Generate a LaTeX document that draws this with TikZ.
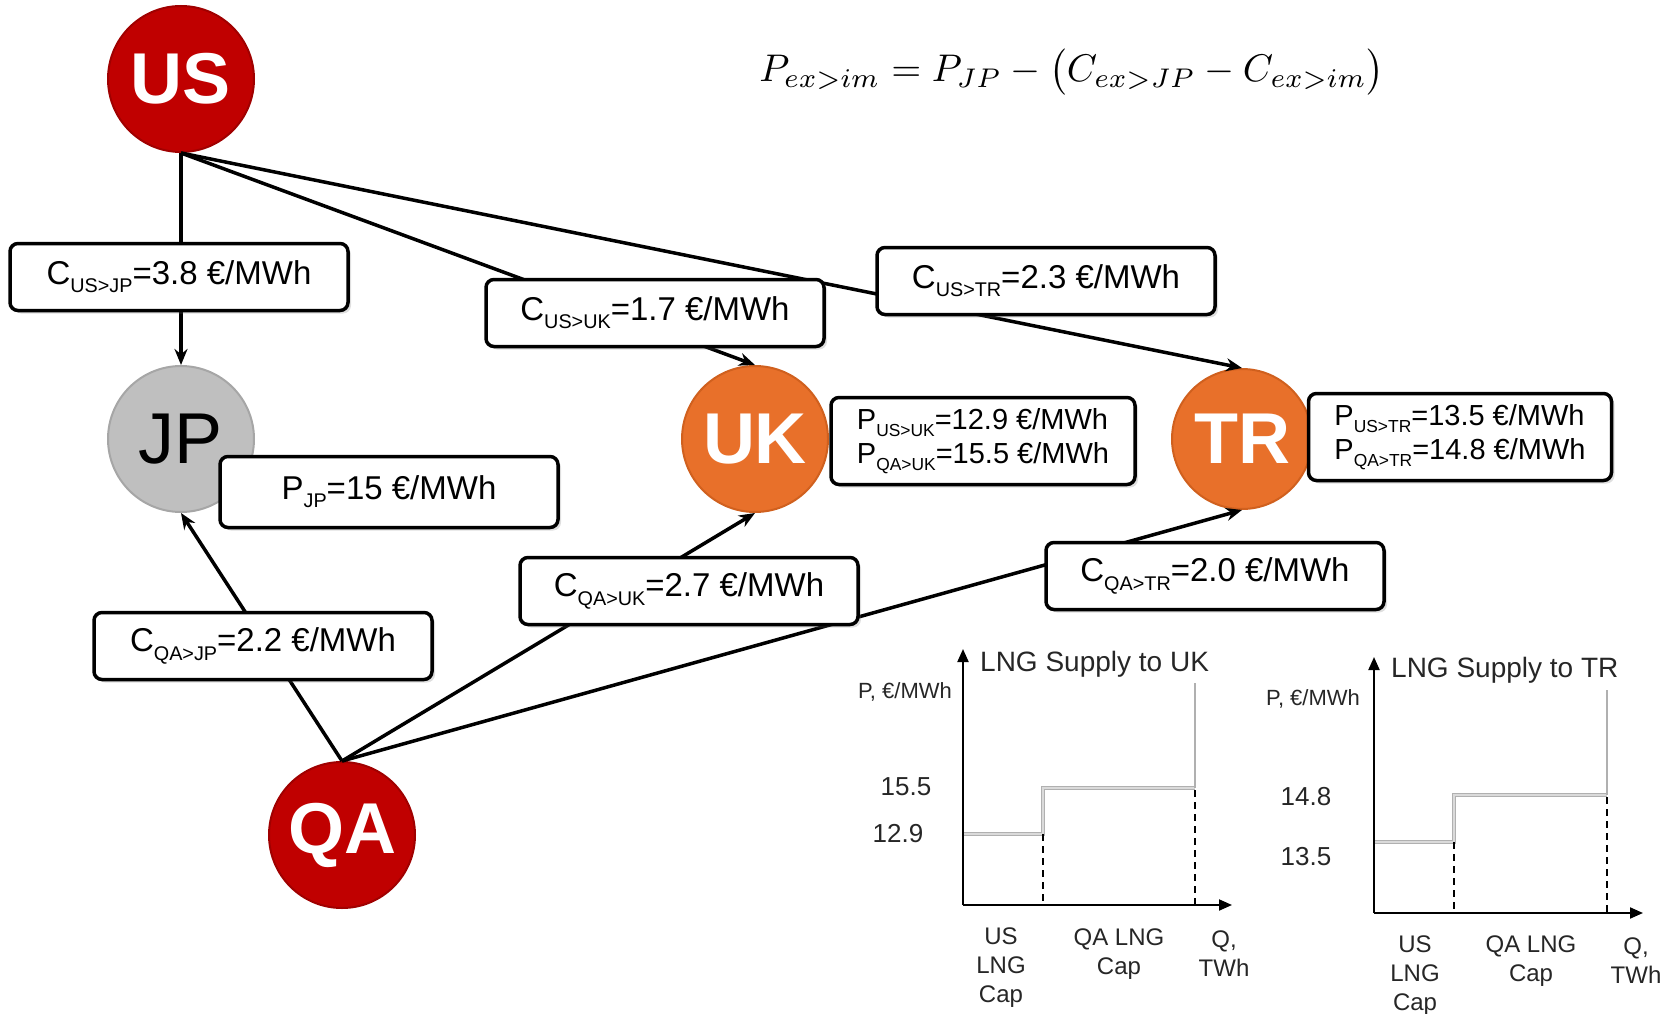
\documentclass[tikz,border=0pt]{standalone}
\usepackage{fontspec}
\setmainfont{Liberation Sans}
\usepackage{graphicx}
\usetikzlibrary{arrows.meta,shadows}
\definecolor{usred}{HTML}{C00000}
\definecolor{usredd}{HTML}{A00000}
\definecolor{orng}{HTML}{E8702A}
\definecolor{orngd}{HTML}{D0601E}
\definecolor{jpgray}{HTML}{BFBFBF}
\definecolor{jpgrayd}{HTML}{A6A6A6}
\definecolor{stepgray}{HTML}{B0B0B0}
\definecolor{stepin}{HTML}{DADADA}
\newcommand\lowsub[1]{\raisebox{-0.25em}{\scalebox{0.6}{#1}}}
\begin{document}
\begin{tikzpicture}[x=1pt,y=-1pt,
  country/.style={circle, minimum size=146pt, inner sep=0pt, line width=2pt,
    font=\fontsize{72}{72}\selectfont\bfseries, text=white},
  costbox/.style={draw=black, line width=3.5pt, rounded corners=8pt, fill=white,
    minimum width=338pt, minimum height=67pt, inner sep=0pt,
    font=\fontsize{33}{36}\selectfont,
    drop shadow={shadow xshift=3pt, shadow yshift=-3pt, opacity=0.25}},
  pricebox/.style={costbox, minimum width=304pt, minimum height=87pt,
    font=\fontsize{29}{34}\selectfont, align=left},
  link/.style={line width=3.5pt, -{Stealth[length=16pt,width=13pt]}},
  axisline/.style={line width=2pt, -{Triangle[length=13pt,width=11pt]}},
  stepline/.style={draw=stepgray, line width=0.9pt, double=stepin, double distance=2pt},
  capline/.style={line width=1.5pt, dash pattern=on 7pt off 5pt},
  charttxt/.style={inner sep=0pt, font=\fontsize{26}{29}\selectfont, text=black!85},
  ]
\useasboundingbox (0,0) rectangle (1674,1014);

% equation
\node[inner sep=0pt] (eq) at (1072,72)
  {\resizebox{625pt}{!}{$P_{ex>im} = P_{JP} - \bigl(C_{ex>JP} - C_{ex>im}\bigr)$}};

% countries
\node[country, fill=usred, draw=usredd] (US) at (181,79) {US};
\node[country, fill=jpgray, draw=jpgrayd, text=black, font=\fontsize{72}{72}\selectfont] (JP) at (181,439) {JP};
\node[country, fill=orng, draw=orngd] (UK) at (755,439) {UK};
\node[country, fill=orng, draw=orngd, minimum size=140pt] (TR) at (1242,439) {TR};
\node[country, fill=usred, draw=usredd] (QA) at (342,835) {QA};

% links
\draw[link] (US.south) -- (JP.north);
\draw[link] (US.south) -- (UK.north);
\draw[link] (US.south) -- (TR.north);
\draw[link] (QA.north) -- (JP.south);
\draw[link] (QA.north) -- (UK.south);
\draw[link] (QA.north) -- (TR.south);

% cost boxes
\node[costbox] (cusjp) at (179,277) {C\lowsub{US>JP}=3.8 €/MWh};
\node[costbox] (cusuk) at (655,313) {C\lowsub{US>UK}=1.7 €/MWh};
\node[costbox] (custr) at (1046,281) {C\lowsub{US>TR}=2.3 €/MWh};
\node[costbox] (cqajp) at (263,646) {C\lowsub{QA>JP}=2.2 €/MWh};
\node[costbox] (cqauk) at (689,591) {C\lowsub{QA>UK}=2.7 €/MWh};
\node[costbox] (cqatr) at (1215,576) {C\lowsub{QA>TR}=2.0 €/MWh};
\node[costbox, minimum height=71pt] (pjp) at (389,492) {P\lowsub{JP}=15 €/MWh};
\node[pricebox] (puk) at (983,441) {P\lowsub{US>UK}=12.9 €/MWh\\P\lowsub{QA>UK}=15.5 €/MWh};
\node[pricebox, minimum width=303pt] (ptr) at (1460,437) {P\lowsub{US>TR}=13.5 €/MWh\\P\lowsub{QA>TR}=14.8 €/MWh};

% chart UK
\draw[stepline] (963,834) -- (1043,834) -- (1043,788) -- (1195,788);
\draw[draw=stepgray, line width=2pt] (1195,788) -- (1195,683);
\draw[capline] (1043,834) -- (1043,905);
\draw[capline] (1195,790) -- (1195,905);
\draw[axisline] (963,905) -- (963,649);
\draw[axisline] (963,905) -- (1232,905);
\node[charttxt, anchor=west, font=\fontsize{28}{30}\selectfont] (ukt) at (980,664) {LNG Supply to UK};
\node[charttxt, font=\fontsize{22}{24}\selectfont] (ukp) at (905,692) {P, €/MWh};
\node[charttxt] (uk155) at (906,787) {15.5};
\node[charttxt] (uk129) at (898,834) {12.9};
\node[charttxt, align=center, font=\fontsize{24}{29}\selectfont] (ukl1) at (1001,968) {US\\LNG\\Cap};
\node[charttxt, align=center, font=\fontsize{24}{29}\selectfont] (ukl2) at (1119,954) {QA LNG\\Cap};
\node[charttxt, align=center, font=\fontsize{24}{29}\selectfont] (ukl3) at (1224,954) {Q,\\TWh};

% chart TR
\draw[stepline] (1374,842) -- (1454,842) -- (1454,795) -- (1607,795);
\draw[draw=stepgray, line width=2pt] (1607,795) -- (1607,690);
\draw[capline] (1454,842) -- (1454,913);
\draw[capline] (1607,797) -- (1607,913);
\draw[axisline] (1374,913) -- (1374,657);
\draw[axisline] (1374,913) -- (1643,913);
\node[charttxt, anchor=west, font=\fontsize{28}{30}\selectfont] (trt) at (1391,670) {LNG Supply to TR};
\node[charttxt, font=\fontsize{22}{24}\selectfont] (trp) at (1313,699) {P, €/MWh};
\node[charttxt] (tr148) at (1306,797) {14.8};
\node[charttxt] (tr135) at (1306,857) {13.5};
\node[charttxt, align=center, font=\fontsize{24}{29}\selectfont] (trl1) at (1415,976) {US\\LNG\\Cap};
\node[charttxt, align=center, font=\fontsize{24}{29}\selectfont] (trl2) at (1531,961) {QA LNG\\Cap};
\node[charttxt, align=center, font=\fontsize{24}{29}\selectfont] (trl3) at (1636,961) {Q,\\TWh};
\end{tikzpicture}
\end{document}
